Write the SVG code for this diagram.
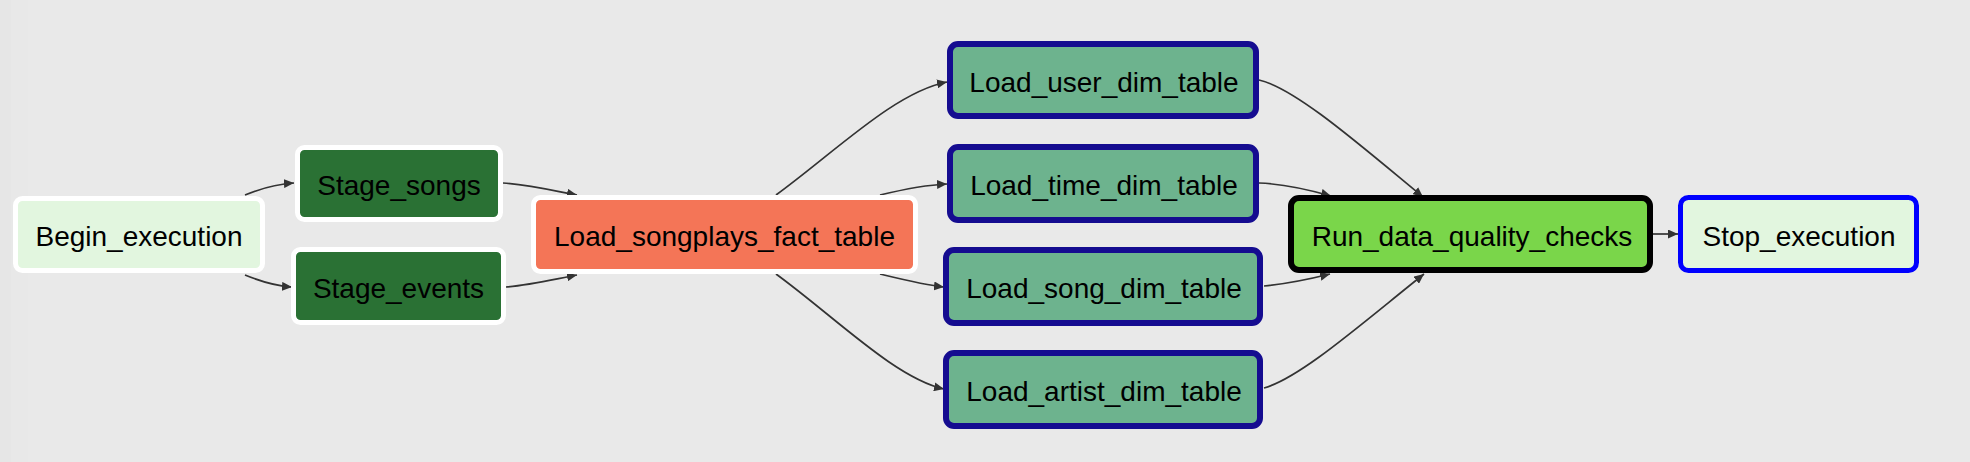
<svg xmlns="http://www.w3.org/2000/svg" width="1970" height="462" viewBox="0 0 1970 462">
<style>
  .node text { font-family: "Liberation Sans", Arial, sans-serif; font-size: 28px; fill: #000; text-anchor: middle; }
  .edge { fill: none; stroke: #333; stroke-width: 1.7; marker-end: url(#arrow); }
  .begin rect { fill: #e2f6df; stroke: #ffffff; stroke-width: 5; }
  .stage rect { fill: #2a7134; stroke: #ffffff; stroke-width: 5; }
  .fact rect { fill: #f47557; stroke: #ffffff; stroke-width: 5; }
  .dim rect { fill: #6db38e; stroke: #150c90; stroke-width: 6; }
  .check rect { fill: #7ad64a; stroke: #000000; stroke-width: 6; }
  .stop rect { fill: #e2f6df; stroke: #0000ff; stroke-width: 5; }
</style>
<defs>
  <marker id="arrow" markerUnits="userSpaceOnUse" markerWidth="10" markerHeight="9" refX="10" refY="4.5" orient="auto">
    <path d="M0,0 L10,4.5 L0,9 z" fill="#333"/>
  </marker>
</defs>
<rect x="0" y="0" width="1970" height="462" fill="#e9e9e9"/>
<rect x="0" y="0" width="11" height="462" fill="#e6e6e6"/>
<rect x="11" y="0" width="17" height="462" fill="#e8e8e8"/>

<g id="connectors">
  <path class="edge" d="M245,195 C262,188 276,184 294,183"/>
  <path class="edge" d="M245,275 C262,282 276,286 292,287"/>
  <path class="edge" d="M503,183 C530,185 555,191 577,195"/>
  <path class="edge" d="M506,287 C530,285 555,279 577,275"/>
  <path class="edge" d="M776,195 C835,152 895,92 947,82"/>
  <path class="edge" d="M880,195 C905,189 925,185 947,184"/>
  <path class="edge" d="M880,274 C905,280 925,285 944,287"/>
  <path class="edge" d="M776,274 C835,317 895,378 944,389"/>
  <path class="edge" d="M1259,80 C1295,88 1360,145 1423,197"/>
  <path class="edge" d="M1259,183 C1285,184 1310,190 1331,196"/>
  <path class="edge" d="M1264,286 C1285,284 1310,279 1330,274"/>
  <path class="edge" d="M1264,388 C1300,378 1360,325 1424,274"/>
  <path class="edge" d="M1653,234 L1678,234"/>
</g>

<g id="Begin_execution" class="node begin">
  <rect x="15.5" y="198.5" width="247" height="72" rx="7"/>
  <text x="139" y="246">Begin_execution</text>
</g>
<g id="Stage_songs" class="node stage">
  <rect x="297.5" y="147.5" width="203" height="72" rx="7"/>
  <text x="399" y="195">Stage_songs</text>
</g>
<g id="Stage_events" class="node stage">
  <rect x="293.5" y="249.5" width="210" height="73" rx="7"/>
  <text x="398.5" y="298">Stage_events</text>
</g>
<g id="Load_songplays_fact_table" class="node fact">
  <rect x="533.5" y="197.5" width="382" height="74" rx="7"/>
  <text x="724.5" y="246">Load_songplays_fact_table</text>
</g>
<g id="Load_user_dim_table" class="node dim">
  <rect x="950" y="44" width="306" height="72" rx="8"/>
  <text x="1104" y="92">Load_user_dim_table</text>
</g>
<g id="Load_time_dim_table" class="node dim">
  <rect x="950" y="147" width="306" height="73" rx="8"/>
  <text x="1104" y="195">Load_time_dim_table</text>
</g>
<g id="Load_song_dim_table" class="node dim">
  <rect x="946" y="250" width="314" height="73" rx="8"/>
  <text x="1104" y="298">Load_song_dim_table</text>
</g>
<g id="Load_artist_dim_table" class="node dim">
  <rect x="946" y="353" width="314" height="73" rx="8"/>
  <text x="1104" y="401">Load_artist_dim_table</text>
</g>
<g id="Run_data_quality_checks" class="node check">
  <rect x="1291" y="198" width="359" height="72" rx="8"/>
  <text x="1472" y="246">Run_data_quality_checks</text>
</g>
<g id="Stop_execution" class="node stop">
  <rect x="1680.5" y="197.5" width="236" height="73" rx="8"/>
  <text x="1799" y="246">Stop_execution</text>
</g>
</svg>
